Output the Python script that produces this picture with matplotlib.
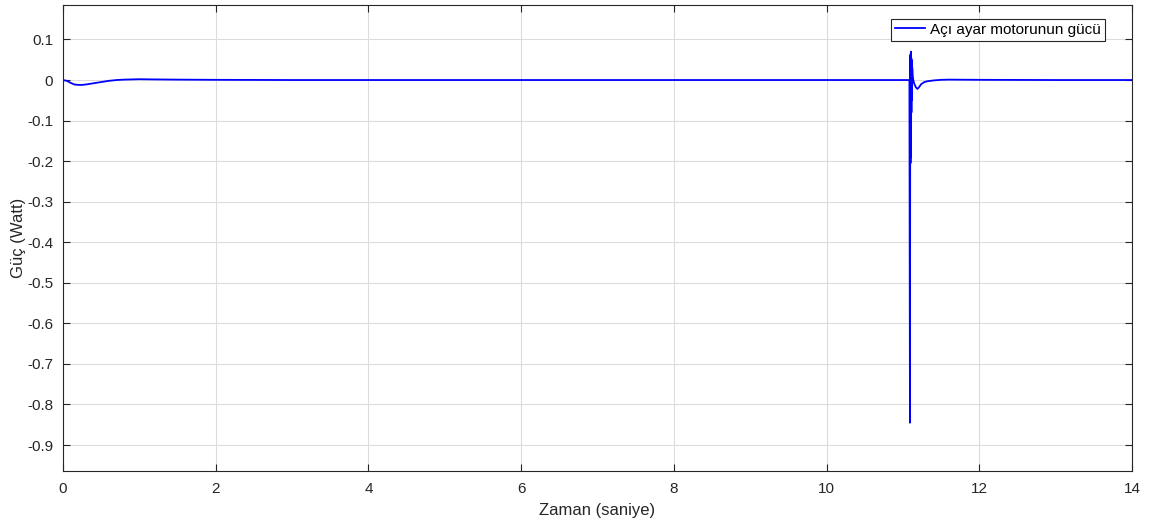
import matplotlib
matplotlib.use("Agg")
import matplotlib.pyplot as plt
import numpy as np

plt.rcParams['font.family'] = ['Liberation Sans', 'DejaVu Sans']

# Time (s) and power (W)
t = [0.0, 0.05, 0.10, 0.15, 0.20, 0.25, 0.30, 0.40, 0.50, 0.60, 0.70, 0.80, 1.00, 1.20,
     1.50, 2.00, 3.00, 5.00, 8.00, 10.0, 11.0, 11.085,
     11.092, 11.096, 11.099, 11.101, 11.103, 11.105, 11.107, 11.109, 11.111, 11.113,
     11.115, 11.117, 11.119, 11.122,
     11.128, 11.135, 11.150, 11.170, 11.190, 11.210, 11.240, 11.280, 11.320, 11.400,
     11.500, 11.600, 12.0, 13.0, 14.0]
p = [0.0, -0.002, -0.007, -0.011, -0.012, -0.012, -0.011, -0.008, -0.005, -0.002, 0.000,
     0.001, 0.002, 0.0015, 0.001, 0.0005, 0.0, 0.0, 0.0, 0.0, 0.0, 0.0,
     -0.845, 0.06, -0.205, 0.065, -0.19, 0.07, -0.12, 0.055, -0.08, 0.05,
     -0.05, 0.045, -0.02, 0.03,
     0.01, 0.0, -0.01, -0.018, -0.022, -0.018, -0.010, -0.005, -0.003, -0.001,
     0.0005, 0.001, 0.0005, 0.0, 0.0]

legend_label = 'Açı ayar motorunun gücü'
x_label = 'Zaman (saniye)'
y_label = 'Güç (Watt)'
x_ticks = [0, 2, 4, 6, 8, 10, 12, 14]
y_ticks = [0.1, 0, -0.1, -0.2, -0.3, -0.4, -0.5, -0.6, -0.7, -0.8, -0.9]

fig = plt.figure(figsize=(11.56, 5.27), dpi=100)
ax = fig.add_axes([63/1156, 1-471/527, (1132-63)/1156, (471-5)/527])
ax.plot(t, p, color='#0000ff', lw=1.3, label=legend_label)
ax.set_xlim(0, 14)
ax.set_ylim(-0.964, 0.185)
ax.set_xticks(x_ticks)
ax.set_yticks(y_ticks)
ax.set_yticklabels(['0' if v == 0 else f'{v:g}' for v in y_ticks])
ax.grid(True, color='#dcdcdc', lw=0.8)
ax.set_axisbelow(True)
ax.tick_params(axis='both', direction='in', length=5, width=0.8, colors='#262626',
               labelsize=11, top=True, right=True, labelcolor='#262626')
ax.tick_params(axis='x', pad=8)
ax.tick_params(axis='y', pad=7)
for s in ax.spines.values():
    s.set_color('#262626')
    s.set_linewidth(0.8)
ax.set_xlabel(x_label, fontsize=12, color='#262626', labelpad=5)
ax.set_ylabel(y_label, fontsize=12, color='#262626', labelpad=1)
leg = ax.legend(loc='upper right', fontsize=11, frameon=True, fancybox=False,
                edgecolor='#262626', framealpha=1, borderpad=0.25, handlelength=2.0,
                handletextpad=0.35, borderaxespad=0.0,
                bbox_to_anchor=((1105-63)/1069, (471-19)/466))
leg.get_frame().set_linewidth(0.8)
fig.savefig('out.png', dpi=100)
